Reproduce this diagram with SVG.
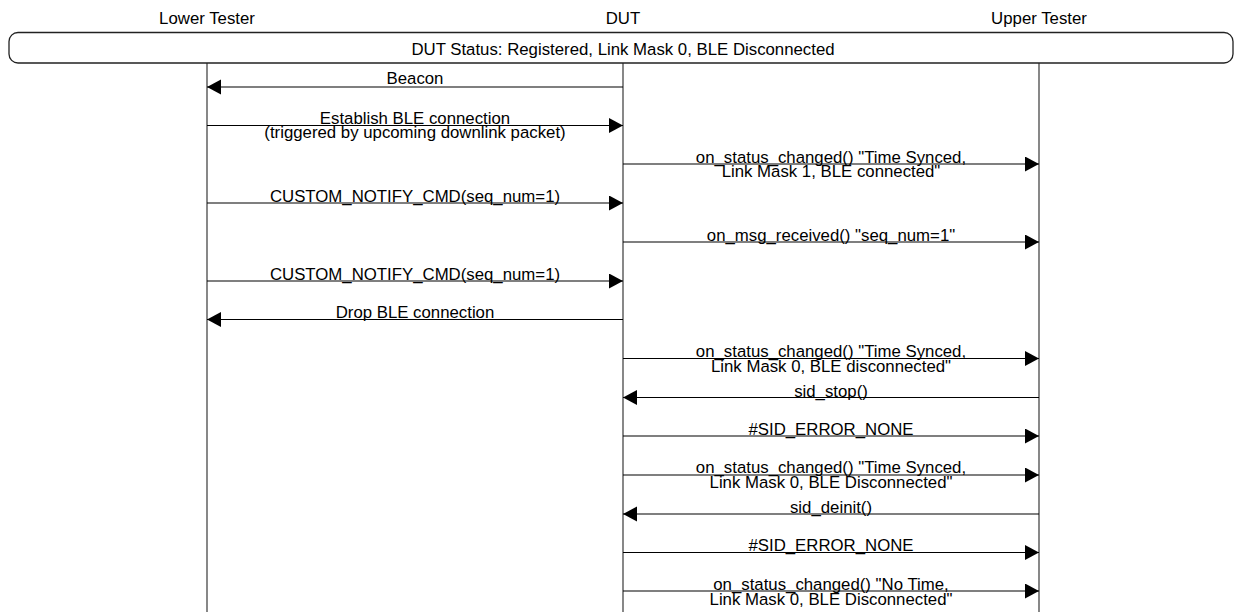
<svg xmlns="http://www.w3.org/2000/svg" width="1236" height="612" viewBox="0 0 1236 612">
<style>
text{font-family:"Liberation Sans",Arial,sans-serif;font-size:16.8px;fill:#000;text-anchor:middle}
.life{stroke:#555;stroke-width:1.4;fill:none}
.msg{stroke:#000;stroke-width:1.1;fill:none;marker-end:url(#ah)}
.box{fill:#fff;stroke:#222;stroke-width:1.3}
</style>
<defs>
<marker id="ah" markerUnits="userSpaceOnUse" markerWidth="14" markerHeight="16" refX="14" refY="7.5" orient="auto">
<path d="M0,0 L14,7.5 L0,15 z" fill="#000"/>
</marker>
</defs>
<rect width="1236" height="612" fill="#fff"/>
<g id="lower-tester">
<text x="207" y="24">Lower Tester</text>
<line class="life" x1="207" y1="63" x2="207" y2="612"/>
</g>
<g id="dut">
<text x="623" y="24">DUT</text>
<line class="life" x1="623" y1="63" x2="623" y2="612"/>
</g>
<g id="upper-tester">
<text x="1039" y="24">Upper Tester</text>
<line class="life" x1="1039" y1="63" x2="1039" y2="612"/>
</g>
<g id="status-box">
<rect class="box" x="9" y="32.5" width="1224" height="30.5" rx="9" ry="9"/>
<text x="623" y="55">DUT Status: Registered, Link Mask 0, BLE Disconnected</text>
</g>
<g id="connectors">
<line class="msg" x1="623" y1="87" x2="207" y2="87"/>
<text x="415" y="83.5">Beacon</text>

<line class="msg" x1="207" y1="125.5" x2="623" y2="125.5"/>
<text x="415" y="123.5">Establish BLE connection</text>
<text x="415" y="137.5">(triggered by upcoming downlink packet)</text>

<line class="msg" x1="623" y1="164" x2="1039" y2="164"/>
<text x="831" y="162.5">on_status_changed() "Time Synced,</text>
<text x="831" y="177">Link Mask 1, BLE connected"</text>

<line class="msg" x1="207" y1="203" x2="623" y2="203"/>
<text x="415" y="202">CUSTOM_NOTIFY_CMD(seq_num=1)</text>

<line class="msg" x1="623" y1="242" x2="1039" y2="242"/>
<text x="831" y="241">on_msg_received() "seq_num=1"</text>

<line class="msg" x1="207" y1="281" x2="623" y2="281"/>
<text x="415" y="279.5">CUSTOM_NOTIFY_CMD(seq_num=1)</text>

<line class="msg" x1="623" y1="319.5" x2="207" y2="319.5"/>
<text x="415" y="318">Drop BLE connection</text>

<line class="msg" x1="623" y1="358.5" x2="1039" y2="358.5"/>
<text x="831" y="356.5">on_status_changed() "Time Synced,</text>
<text x="831" y="371.5">Link Mask 0, BLE disconnected"</text>

<line class="msg" x1="1039" y1="397.5" x2="623" y2="397.5"/>
<text x="831" y="396.5">sid_stop()</text>

<line class="msg" x1="623" y1="436" x2="1039" y2="436"/>
<text x="831" y="435">#SID_ERROR_NONE</text>

<line class="msg" x1="623" y1="475" x2="1039" y2="475"/>
<text x="831" y="473">on_status_changed() "Time Synced,</text>
<text x="831" y="488">Link Mask 0, BLE Disconnected"</text>

<line class="msg" x1="1039" y1="514" x2="623" y2="514"/>
<text x="831" y="512.5">sid_deinit()</text>

<line class="msg" x1="623" y1="552.5" x2="1039" y2="552.5"/>
<text x="831" y="551">#SID_ERROR_NONE</text>

<line class="msg" x1="623" y1="591" x2="1039" y2="591"/>
<text x="831" y="589.5">on_status_changed() "No Time,</text>
<text x="831" y="604.5">Link Mask 0, BLE Disconnected"</text>
</g>
</svg>
